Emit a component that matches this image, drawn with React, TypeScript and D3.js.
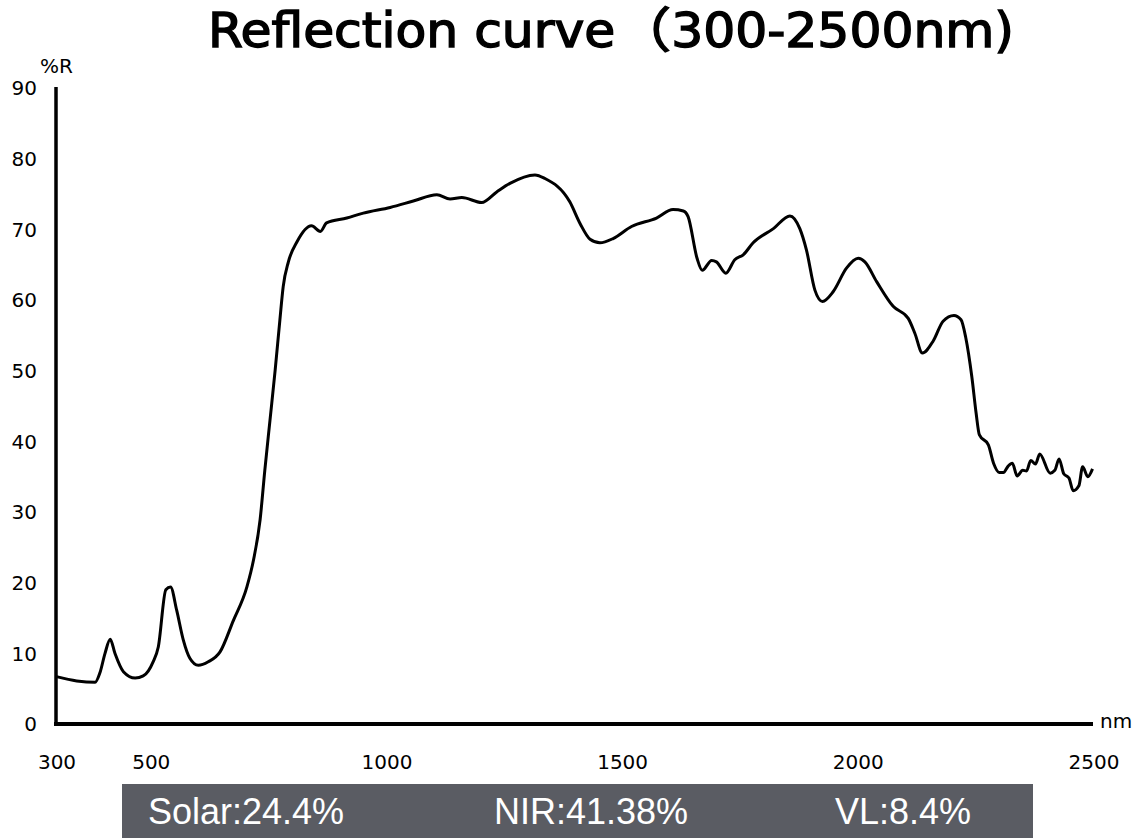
import React, { useEffect, useRef } from "react";
import * as d3 from "d3";

// wavelength (nm) and reflectance (%R)
const wavelengths = [
  301, 344, 383, 393, 404, 415, 425, 443, 468, 485, 506, 517, 533, 543, 556,
  570, 584, 602, 623, 648, 676, 705, 719, 733, 743, 754, 765, 775, 782, 793,
  811, 842, 861, 874, 917, 952, 1009, 1058, 1108, 1136, 1161, 1203, 1235,
  1263, 1316, 1337, 1390, 1412, 1433, 1454, 1482, 1521, 1574, 1609, 1631,
  1641, 1660, 1671, 1691, 1701, 1721, 1740, 1758, 1779, 1822, 1857, 1878,
  1892, 1910, 1926, 1949, 1977, 2002, 2016, 2041, 2076, 2108, 2122, 2138,
  2161, 2182, 2205, 2220, 2230, 2243, 2252, 2259, 2278, 2289, 2301, 2310,
  2320, 2329, 2339, 2351, 2359, 2368, 2378, 2387, 2409, 2419, 2428, 2438,
  2449, 2458, 2470, 2478, 2489, 2499,
];
const reflectance = [
  6.7, 6.1, 5.9, 7.2, 10.0, 12.0, 10.0, 7.4, 6.5, 6.8, 8.8, 10.9, 19.0, 19.4,
  16.1, 11.9, 9.3, 8.3, 8.8, 10.2, 14.6, 19.4, 23.2, 28.9, 35.9, 43.0, 50.1,
  57.2, 61.9, 65.4, 68.2, 70.5, 69.7, 70.9, 71.6, 72.3, 73.1, 74.0, 74.9,
  74.3, 74.5, 73.8, 75.3, 76.5, 77.7, 77.2, 73.9, 70.8, 68.6, 68.1, 68.7,
  70.4, 71.6, 72.8, 72.6, 71.8, 65.9, 64.2, 65.6, 65.4, 63.8, 65.7, 66.4,
  68.1, 70.1, 71.9, 70.1, 67.1, 61.4, 59.8, 61.2, 64.5, 65.9, 65.4, 62.6,
  59.1, 57.4, 55.3, 52.5, 54.2, 57.0, 57.8, 57.2, 54.7, 49.1, 44.0, 40.9,
  39.5, 36.9, 35.6, 35.6, 36.5, 36.9, 35.1, 35.9, 35.8, 37.3, 36.8, 38.2,
  35.5, 35.9, 37.5, 35.4, 34.8, 33.0, 33.7, 36.4, 35.0, 36.1,
];

const xTicks = [300, 500, 1000, 1500, 2000, 2500];
const yTicks = [0, 10, 20, 30, 40, 50, 60, 70, 80, 90];
const summaryLabels = ["Solar:24.4%", "NIR:41.38%", "VL:8.4%"];

const W = 1144;
const H = 838;

const App: React.FC = () => {
  const ref = useRef<SVGSVGElement | null>(null);

  useEffect(() => {
    if (!ref.current) return;
    ref.current.innerHTML = "";
    const svg = d3.select(ref.current);

    const x = d3.scaleLinear().domain([300, 2500]).range([56, 1093]);
    const y = d3.scaleLinear().domain([0, 90]).range([724, 88]);
    const font = "'DejaVu Sans', sans-serif";

    // title
    svg
      .append("text")
      .attr("x", 208)
      .attr("y", 47)
      .attr("font-family", "'DejaVu Sans Condensed', 'Noto Sans CJK JP', sans-serif")
      .attr("font-size", 48)
      .attr("textLength", 806)
      .attr("lengthAdjust", "spacingAndGlyphs")
      .attr("fill", "#000")
      .attr("stroke", "#000")
      .attr("stroke-width", 1.3)
      .text("Reflection curve（300-2500nm)");

    // axes
    svg
      .append("line")
      .attr("x1", x(300))
      .attr("x2", x(300))
      .attr("y1", y(90) - 1)
      .attr("y2", y(0) + 2)
      .attr("stroke", "#000")
      .attr("stroke-width", 3.5);
    svg
      .append("line")
      .attr("x1", x(300) - 2)
      .attr("x2", x(2500))
      .attr("y1", y(0))
      .attr("y2", y(0))
      .attr("stroke", "#000")
      .attr("stroke-width", 4);

    svg
      .selectAll("text.ytick")
      .data(yTicks)
      .join("text")
      .attr("class", "ytick")
      .attr("x", 37)
      .attr("y", (d) => y(d))
      .attr("dy", "0.36em")
      .attr("text-anchor", "end")
      .attr("font-family", font)
      .attr("font-size", 20)
      .text((d) => d);

    svg
      .selectAll("text.xtick")
      .data(xTicks)
      .join("text")
      .attr("class", "xtick")
      .attr("x", (d) => x(d) + 1)
      .attr("y", 769)
      .attr("text-anchor", "middle")
      .attr("font-family", font)
      .attr("font-size", 20)
      .text((d) => d);

    svg
      .append("text")
      .attr("x", 40)
      .attr("y", 73)
      .attr("font-family", font)
      .attr("font-size", 20)
      .text("%R");
    svg
      .append("text")
      .attr("x", 1100)
      .attr("y", 728)
      .attr("font-family", font)
      .attr("font-size", 20)
      .text("nm");

    // curve
    const pts = wavelengths.map((w, i) => [w, reflectance[i]] as [number, number]);
    const line = d3
      .line<[number, number]>()
      .x((d) => x(d[0]))
      .y((d) => y(d[1]))
      .curve(d3.curveMonotoneX);
    svg
      .append("path")
      .attr("d", line(pts) as string)
      .attr("fill", "none")
      .attr("stroke", "#000")
      .attr("stroke-width", 3)
      .attr("stroke-linejoin", "round");

    // summary band
    svg
      .append("rect")
      .attr("x", 122)
      .attr("y", 784)
      .attr("width", 911)
      .attr("height", 54)
      .attr("fill", "#5a5c63");
    const labelX = [148, 494, 835];
    svg
      .selectAll("text.summary")
      .data(summaryLabels)
      .join("text")
      .attr("class", "summary")
      .attr("x", (_, i) => labelX[i])
      .attr("y", 824)
      .attr("font-family", "'Liberation Sans', Arial, sans-serif")
      .attr("font-size", 36)
      .attr("fill", "#fff")
      .text((d) => d);
  }, []);

  return (
    <div style={{ position: "absolute", left: 0, top: 0 }}>
      <svg ref={ref} width={W} height={H} style={{ display: "block", background: "#fff" }} />
    </div>
  );
};

export default App;
